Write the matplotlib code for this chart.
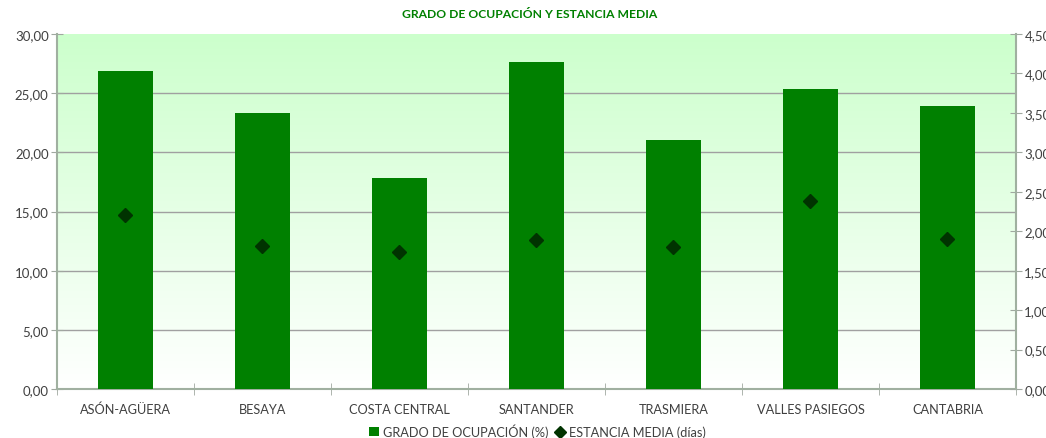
import matplotlib
matplotlib.use("Agg")
import matplotlib.pyplot as plt
import numpy as np
from matplotlib.ticker import FuncFormatter, MultipleLocator, FixedLocator
from matplotlib.lines import Line2D
from matplotlib.patches import Patch
from matplotlib.colors import LinearSegmentedColormap

categories = ["ASÓN-AGÜERA", "BESAYA", "COSTA CENTRAL", "SANTANDER",
              "TRASMIERA", "VALLES PASIEGOS", "CANTABRIA"]
ocupacion = [26.88, 23.33, 17.83, 27.64, 21.05, 25.36, 23.92]
estancia = [2.21, 1.81, 1.74, 1.89, 1.80, 2.38, 1.90]
title = "GRADO DE OCUPACIÓN Y ESTANCIA MEDIA"
label_bar = "GRADO DE OCUPACIÓN (%)"
label_pt = "ESTANCIA MEDIA (días)"

plt.rcParams['font.family'] = ['Lato', 'DejaVu Sans']

fig = plt.figure(figsize=(10.46, 4.39), dpi=100)
ax = fig.add_axes([57/1046, 1-390/439, (1016-57)/1046, (390-35)/439])
n = len(categories)
x = np.arange(n)

# gradient background
cmap = LinearSegmentedColormap.from_list("g", ["#ffffff", "#ccffcc"])
grad = np.linspace(0, 1, 256).reshape(-1, 1)
ax.imshow(grad, cmap=cmap, aspect='auto', origin='lower',
          extent=[-0.5, n-0.5, 0, 30], zorder=0)

ax.bar(x, ocupacion, width=0.40, color="#008000", zorder=3)
ax.set_xlim(-0.5, n-0.5)
ax.set_ylim(0, 30)
ax.yaxis.set_major_locator(MultipleLocator(5))
fmt = FuncFormatter(lambda v, p: f"{v:.2f}".replace(".", ","))
ax.yaxis.set_major_formatter(fmt)
for yv in range(5, 30, 5):
    ax.axhline(yv, color="#a0a0a0", lw=1, zorder=1)

ax.set_xticks(x)
ax.set_xticklabels(categories)
ax.xaxis.set_minor_locator(FixedLocator(np.arange(-0.5, n, 1)))
ax.tick_params(axis='x', which='major', length=0, pad=10, labelsize=9.2, labelcolor="#404040")
ax.tick_params(axis='x', which='minor', length=8, direction='inout', color="#a0a8a0")
ax.tick_params(axis='y', length=8, direction='inout', color="#a0a8a0", labelsize=9.5, labelcolor="#404040", pad=2)
for s in ['top', 'right']:
    ax.spines[s].set_visible(False)
for s in ['left', 'bottom']:
    ax.spines[s].set_color("#a0b0a0")
    ax.spines[s].set_linewidth(1.5)

ax2 = ax.twinx()
ax2.set_ylim(0, 4.5)
ax2.yaxis.set_major_locator(MultipleLocator(0.5))
ax2.yaxis.set_major_formatter(fmt)
ax2.plot(x, estancia, linestyle='none', marker='D', ms=7.5, color="#003300", zorder=5)
ax2.tick_params(axis='y', length=8, direction='inout', color="#a0a8a0", labelsize=9.5, labelcolor="#404040", pad=2)
for s in ['top', 'left', 'bottom']:
    ax2.spines[s].set_visible(False)
ax2.spines['right'].set_color("#a0b0a0")
ax2.spines['right'].set_linewidth(1.5)

fig.text(530/1046, 1-14/439, title, ha='center', va='center',
         fontsize=8.7, fontweight='bold', color="#008000")

handles = [Patch(facecolor="#008000", edgecolor='none', label=label_bar),
           Line2D([], [], linestyle='none', marker='D', ms=6, color="#003300", label=label_pt)]
fig.legend(handles=handles, loc='center', bbox_to_anchor=(537/1046, 1-432/439),
           ncol=2, frameon=False, fontsize=9.2, handlelength=0.8, handletextpad=0.3,
           columnspacing=0.5, labelcolor="#404040")

fig.savefig("out.png", dpi=100)
